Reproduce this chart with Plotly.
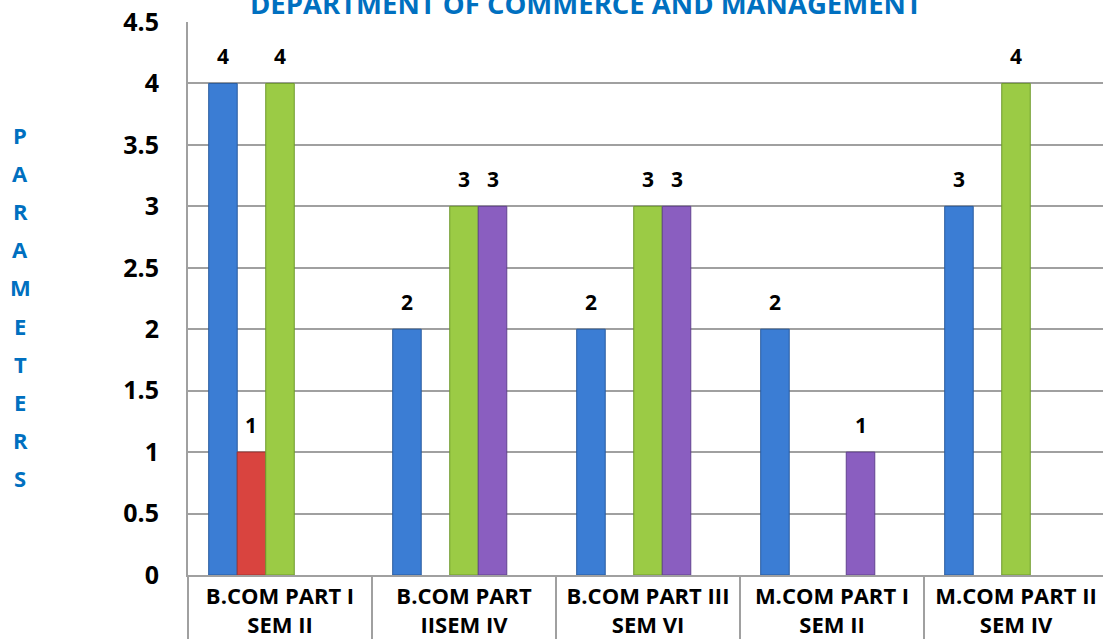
import plotly.graph_objects as go

# ---- data ----
categories = ["B.COM PART I<br>SEM II", "B.COM PART<br>IISEM IV", "B.COM PART III<br>SEM VI",
              "M.COM PART I<br>SEM II", "M.COM PART II<br>SEM IV"]
series_names = ["Series1", "Series2", "Series3", "Series4"]
series1 = [4, 2, 2, 2, 3]
series2 = [1, None, None, None, None]
series3 = [4, 3, 3, None, 4]
series4 = [None, 3, 3, 1, None]
series_values = [series1, series2, series3, series4]
y_ticks = [0, 0.5, 1, 1.5, 2, 2.5, 3, 3.5, 4, 4.5]
title_text = "DEPARTMENT OF COMMERCE AND MANAGEMENT"
y_title = "PARAMETERS"

# ---- style ----
colors = ["#3B7DD4", "#D9443F", "#9BCB45", "#8A5EC0"]
edge_colors = ["#2A5C9E", "#A33431", "#6F9A2C", "#62428F"]
W, H = 1103, 639
ML, MR, MT, MB = 188, 0, 22, 64
cat_px = 184.0
plot_w = W - ML - MR
x_range = [-0.5, -0.5 + plot_w / cat_px]
slots = 5
bar_w = 0.155
group_start = -slots * bar_w / 2
grid_col = "#A0A0A0"
font_fam = "Open Sans"

x_idx = list(range(len(categories)))
fig = go.Figure()
annotations = []
for i, (name, vals) in enumerate(zip(series_names, series_values)):
    off = group_start + i * bar_w
    fig.add_trace(go.Bar(
        x=x_idx, y=vals, name=name,
        width=bar_w, offset=off,
        marker=dict(color=colors[i], line=dict(color=edge_colors[i], width=1)),
        hoverinfo="y+name",
    ))
    for xi, v in zip(x_idx, vals):
        if v is None:
            continue
        annotations.append(dict(
            x=xi + off + bar_w / 2, y=v, xref="x", yref="y",
            text=f"<b>{v}</b>", showarrow=False, yshift=27,
            font=dict(family=font_fam, size=21, color="black"),
        ))

# title
annotations.append(dict(
    x=(586 - ML) / plot_w, y=1, xref="paper", yref="paper",
    text=f"<b>{title_text}</b>", showarrow=False, yanchor="middle", yshift=19,
    font=dict(family=font_fam, size=27.5, color="#0070C0"),
))

# vertical stacked y-axis title
plot_h = H - MT - MB
for k, ch in enumerate(y_title):
    ypix = 135 + k * 38.1
    annotations.append(dict(
        x=(20 - ML) / plot_w, y=1 - (ypix - MT) / plot_h, xref="paper", yref="paper",
        text=f"<b>{ch}</b>", showarrow=False, xanchor="center", yanchor="middle",
        font=dict(family=font_fam, size=22, color="#0070C0"),
    ))

# table-like dividers below the x axis
shapes = []
ext = -(MB + 5) / plot_h
span = x_range[1] - x_range[0]
for b in [i + 0.5 for i in x_idx[:-1]] + [-0.5]:
    xp = (b - x_range[0]) / span
    shapes.append(dict(type="line", xref="paper", yref="paper", x0=xp, x1=xp, y0=0, y1=ext,
                       line=dict(color=grid_col, width=2)))

fig.update_layout(
    width=W, height=H,
    margin=dict(l=ML, r=MR, t=MT, b=MB),
    paper_bgcolor="white", plot_bgcolor="white",
    barmode="overlay",
    showlegend=False,
    annotations=annotations,
    shapes=shapes,
    font=dict(family=font_fam, color="black"),
    xaxis=dict(
        range=x_range, tickmode="array", tickvals=x_idx, ticktext=[f"<b>{c}</b>" for c in categories],
        showgrid=False, showline=True, linecolor=grid_col, linewidth=2,
        ticks="", tickfont=dict(family=font_fam, size=22, color="black"),
        ticklabelstandoff=1, automargin=False, fixedrange=True,
    ),
    yaxis=dict(
        range=[0, 4.5], tickmode="array", tickvals=y_ticks,
        ticktext=[f"<b>{t:g}</b>" for t in y_ticks],
        showgrid=True, gridcolor=grid_col, gridwidth=2,
        showline=True, linecolor=grid_col, linewidth=2, zeroline=False,
        ticks="", tickfont=dict(family=font_fam, size=25, color="black"),
        ticklabelstandoff=22, automargin=False, fixedrange=True,
    ),
)

fig.write_html("out.html", config={"displayModeBar": False},
               post_script="document.body.style.margin='0';document.body.style.overflow='hidden';")
